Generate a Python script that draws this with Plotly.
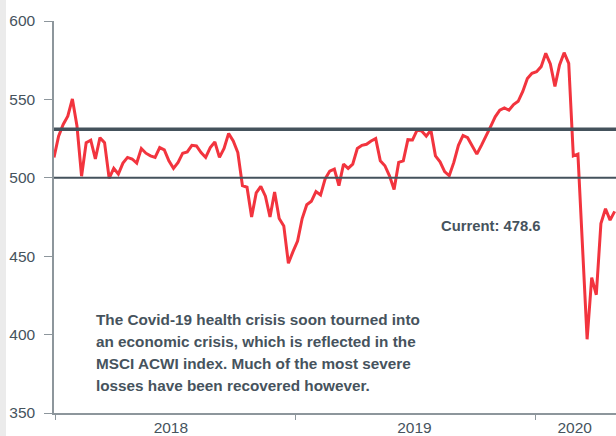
import pandas as pd
import plotly.graph_objects as go

# ---- data ----
start_date = "2017-12-29"
acwi_values = [
    513, 526.6, 534, 539.3, 550.3, 533, 501, 522.4, 524, 512,
    525.6, 522.4, 499.7, 506, 502.4, 509.4, 513, 512, 509.4, 518.7,
    515.7, 514, 513, 519.3, 517.8, 510.8, 506, 509.8, 515.7, 516.5,
    520.7, 520.3, 516.1, 513, 519.3, 522.8, 513, 518.7, 528.3, 523.5,
    516.1, 495, 494, 475, 490.4, 494.6, 488.3, 475, 491, 474,
    469.3, 445.5, 452.9, 459.6, 474, 482.8, 485, 491.2, 489, 499.3,
    504.3, 505.6, 495, 508.7, 506, 508.7, 518.7, 520.7, 521.4, 523.5,
    525, 510.8, 507.7, 501.3, 492.5, 509.8, 510.8, 524.3, 524.1, 530.4,
    529.8, 526.6, 530.4, 514, 510.2, 503.9, 501.3, 509.8, 520.7, 527,
    525.6, 520.3, 515.1, 520.7, 526.3, 532.6, 538.9, 543.1, 544.6, 543.1,
    546.7, 548.8, 555.1, 563.3, 566.7, 567.7, 570.9, 579.4, 572.6, 558.3,
    572, 579.8, 573, 514, 515.1, 460, 397, 436.4, 425.4, 470.8,
    480.3, 473, 478.6,
]
dates = pd.date_range(start_date, periods=len(acwi_values), freq="7D")

ref_levels = [500, 531]
year_starts = ["2018-01-01", "2019-01-01", "2020-01-01"]
year_label_pos = ["2018-06-25", "2019-07-01", "2020-03-01"]
year_labels = ["2018", "2019", "2020"]
y_ticks = [350, 400, 450, 500, 550, 600]

current_label = "Current: 478.6"
note_lines = [
    "The Covid-19 health crisis soon tourned into",
    "an economic crisis, which is reflected in the",
    "MSCI ACWI index. Much of the most severe",
    "losses have been recovered however.",
]

# ---- styling ----
TEXT = "#46535d"
AXIS = "#8d969c"
RED = "#f2343e"
REF = "#44525c"
FONT = "Liberation Sans, Arial, sans-serif"
x_range = ["2017-12-29", "2020-05-03"]

fig = go.Figure()
fig.add_trace(go.Scatter(
    x=dates, y=acwi_values, mode="lines",
    line=dict(color=RED, width=3), hoverinfo="skip", showlegend=False,
))
# invisible trace to host the label axis
fig.add_trace(go.Scatter(
    x=year_label_pos, y=[None] * len(year_label_pos), xaxis="x2",
    mode="markers", hoverinfo="skip", showlegend=False,
))

ref_widths = [2, 3.5]
for lvl, w in zip(ref_levels, ref_widths):
    fig.add_shape(type="line", xref="paper", x0=0, x1=1, yref="y", y0=lvl, y1=lvl,
                  line=dict(color=REF, width=w), layer="above")

# light stripe at the far left
fig.add_shape(type="rect", xref="paper", yref="paper", x0=-54 / 562, x1=-48 / 562,
              y0=-1, y1=2, fillcolor="#ebebeb", line=dict(width=0), layer="below")

fig.add_annotation(text=current_label, xref="paper", yref="y", x=0.778, y=469,
                   xanchor="center", yanchor="middle", showarrow=False,
                   font=dict(family=FONT, size=14.8, color=TEXT, weight="bold"))

line_y = [0.2375, 0.182, 0.1265, 0.071]
for txt, yy in zip(note_lines, line_y):
    fig.add_annotation(text=txt, xref="paper", yref="paper", x=0.072, y=yy,
                       xanchor="left", yanchor="middle", showarrow=False,
                       font=dict(family=FONT, size=15.3, color=TEXT, weight="bold"))

fig.update_layout(
    width=616, height=436,
    margin=dict(l=54, r=0, t=21, b=20, pad=0),
    paper_bgcolor="white", plot_bgcolor="white",
    font=dict(family=FONT, color=TEXT),
    xaxis=dict(
        type="date", range=x_range, tickvals=year_starts, ticktext=["", "", ""],
        ticks="outside", ticklen=5, tickcolor=AXIS, tickwidth=1,
        showline=True, linecolor=AXIS, linewidth=1.5,
        showgrid=False, zeroline=False, fixedrange=True,
    ),
    xaxis2=dict(
        type="date", range=x_range, overlaying="x", anchor="y", side="bottom",
        tickvals=year_label_pos, ticktext=year_labels, ticks="",
        tickfont=dict(family=FONT, size=15.5, color=TEXT),
        ticklabelstandoff=3,
        showline=False, showgrid=False, zeroline=False,
    ),
    yaxis=dict(
        range=[350, 600], tickvals=y_ticks,
        ticks="outside", ticklen=8, tickcolor=AXIS, tickwidth=1,
        showline=True, linecolor=AXIS, linewidth=1.5,
        showgrid=False, zeroline=False,
        tickfont=dict(family=FONT, size=15.5, color=TEXT),
        ticklabelstandoff=6,
    ),
)

fig.write_html("out.html", config={"displayModeBar": False},
               post_script="document.body.style.margin='0';")
